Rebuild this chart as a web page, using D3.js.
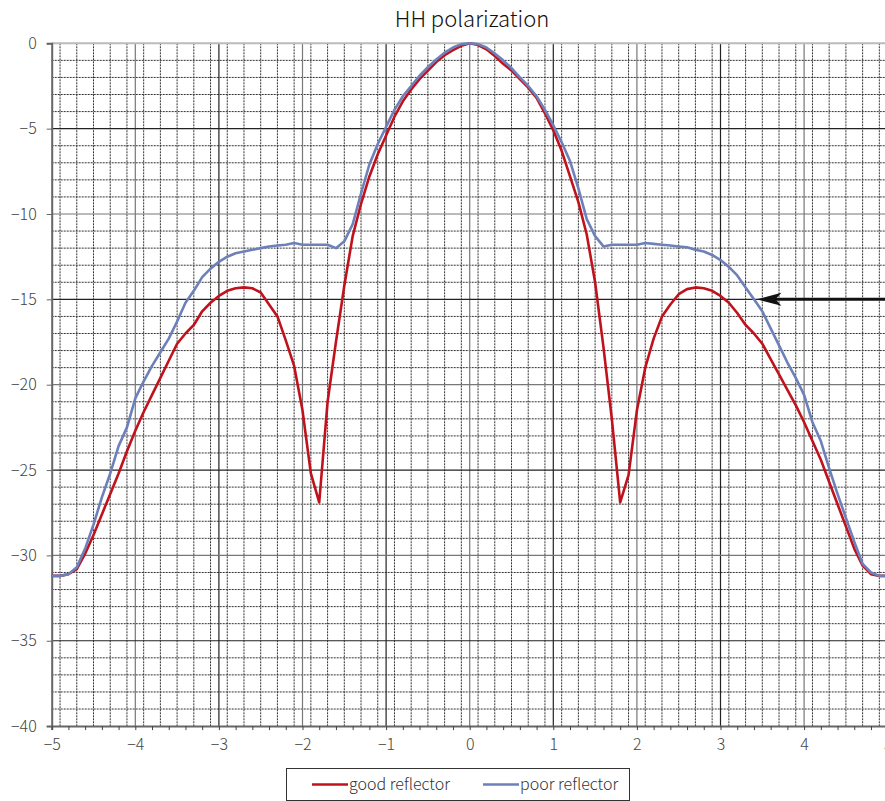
<!DOCTYPE html>
<html>
<head>
<meta charset="utf-8">
<script src="https://cdn.jsdelivr.net/npm/d3@7"></script>
<style>
  body { margin: 0; background: #fff; }
  text { font-family: "Noto Sans CJK JP", "DejaVu Sans", sans-serif; fill: #222; }
</style>
</head>
<body>
<svg id="svg" width="885" height="801"></svg>
<script>
var xValues = [-5.0,-4.9,-4.8,-4.7,-4.6,-4.5,-4.4,-4.3,-4.2,-4.1,
	-4.0,-3.9,-3.8,-3.7,-3.6,-3.5,-3.4,-3.3,-3.2,-3.1,
	-3.0,-2.9,-2.8,-2.7,-2.6,-2.5,-2.4,-2.3,-2.2,-2.1,
	-2.0,-1.9,-1.8,-1.7,-1.6,-1.5,-1.4,-1.3,-1.2,-1.1,
	-1.0,-0.9,-0.8,-0.7,-0.6,-0.5,-0.4,-0.3,-0.2,-0.1,
	0.0,0.1,0.2,0.3,0.4,0.5,0.6,0.7,0.8,0.9,
	1.0,1.1,1.2,1.3,1.4,1.5,1.6,1.7,1.8,1.9,
	2.0,2.1,2.2,2.3,2.4,2.5,2.6,2.7,2.8,2.9,
	3.0,3.1,3.2,3.3,3.4,3.5,3.6,3.7,3.8,3.9,
	4.0,4.1,4.2,4.3,4.4,4.5,4.6,4.7,4.8,4.9,5.0];

var goodReflector = [-31.2,-31.2,-31.1,-30.8,-29.9,-28.8,-27.6,-26.4,-25.2,-23.9,
	-22.7,-21.6,-20.6,-19.6,-18.6,-17.6,-17.0,-16.5,-15.7,-15.2,
	-14.8,-14.5,-14.35,-14.3,-14.35,-14.6,-15.3,-16.0,-17.4,-18.9,
	-21.5,-25.2,-26.9,-21.0,-17.5,-14.2,-11.3,-9.4,-7.8,-6.5,
	-5.4,-4.3,-3.4,-2.7,-2.1,-1.6,-1.1,-0.7,-0.4,-0.15,
	0.0,-0.1,-0.35,-0.75,-1.2,-1.6,-2.1,-2.6,-3.2,-4.1,
	-5.1,-6.3,-7.8,-9.3,-11.2,-14.0,-17.8,-22.0,-26.9,-25.3,
	-21.5,-19.0,-17.3,-16.0,-15.3,-14.7,-14.4,-14.3,-14.35,-14.5,
	-14.8,-15.2,-15.8,-16.5,-17.0,-17.6,-18.5,-19.4,-20.3,-21.2,
	-22.2,-23.3,-24.4,-25.7,-27.0,-28.3,-29.6,-30.6,-31.1,-31.2,-31.2];

var poorReflector = [-31.2,-31.2,-31.1,-30.7,-29.6,-28.2,-26.6,-25.2,-23.6,-22.5,
	-20.8,-19.8,-18.9,-18.1,-17.3,-16.3,-15.2,-14.5,-13.7,-13.2,
	-12.8,-12.5,-12.3,-12.2,-12.1,-12.0,-11.9,-11.85,-11.8,-11.7,
	-11.8,-11.8,-11.8,-11.8,-12.0,-11.6,-10.6,-8.8,-7.1,-5.9,
	-4.9,-3.9,-3.1,-2.5,-1.9,-1.4,-0.95,-0.55,-0.25,-0.05,
	0.0,-0.05,-0.25,-0.6,-1.0,-1.45,-2.0,-2.5,-3.1,-3.9,
	-4.8,-5.8,-6.9,-8.5,-10.3,-11.3,-11.9,-11.8,-11.8,-11.8,
	-11.8,-11.7,-11.75,-11.8,-11.85,-11.9,-11.95,-12.1,-12.2,-12.4,
	-12.7,-13.1,-13.6,-14.3,-15.0,-15.7,-16.7,-17.7,-18.7,-19.6,
	-20.6,-22.2,-23.3,-24.9,-26.4,-27.8,-29.2,-30.5,-31.0,-31.2,-31.2];

var seriesNames = ["good reflector", "poor reflector"];
var seriesColors = ["#c0121c", "#6d80b9"];
var xTicks = [-5, -4, -3, -2, -1, 0, 1, 2, 3, 4, 5];
var yTicks = [0, -5, -10, -15, -20, -25, -30, -35, -40];
var arrowPoint = [3.43, -15];

var svg = d3.select("svg"),
	width = +svg.attr("width"),
	height = +svg.attr("height");

var marginLeft = 51.7, marginTop = 43.3, unitX = 83.6, unitY = 17.07;

var x = d3.scaleLinear().domain([-5, 5]).range([marginLeft, marginLeft + unitX * 10]);
var y = d3.scaleLinear().domain([0, -40]).range([marginTop, marginTop + unitY * 40]);

function fmt(v) { return v < 0 ? "\u2212" + Math.abs(v) : "" + v; }

// grid
var grid = svg.append("g");
d3.range(-49, 50, 2).map(function (v) { return v / 10; })
	.filter(function (v) { return Math.abs(v - Math.round(v)) > 0.01; })
	.forEach(function (v) {
		grid.append("line")
			.attr("x1", x(v)).attr("x2", x(v))
			.attr("y1", y(0)).attr("y2", y(-40))
			.style("stroke", "#333").style("stroke-dasharray", "2,1").style("stroke-width", 1);
	});
d3.range(-1, -40, -1)
	.filter(function (v) { return v % 5 != 0; })
	.forEach(function (v) {
		grid.append("line")
			.attr("x1", x(-5)).attr("x2", x(5))
			.attr("y1", y(v)).attr("y2", y(v))
			.style("stroke", "#333").style("stroke-dasharray", "2,1").style("stroke-width", 1);
	});
xTicks.slice(1, -1).forEach(function (v, i) {
	grid.append("line")
		.attr("x1", x(v)).attr("x2", x(v))
		.attr("y1", y(0)).attr("y2", y(-40))
		.style("stroke", i % 2 ? "#222" : "#777").style("stroke-width", 1.2);
});
yTicks.slice(1, -1).forEach(function (v, i) {
	grid.append("line")
		.attr("x1", x(-5)).attr("x2", x(5))
		.attr("y1", y(v)).attr("y2", y(v))
		.style("stroke", i % 2 ? "#777" : "#222").style("stroke-width", 1.2);
});

// frame
svg.append("line").attr("x1", x(-5)).attr("x2", x(5)).attr("y1", y(0)).attr("y2", y(0))
	.style("stroke", "#bbb").style("stroke-width", 2);

var yAxis = svg.append("g")
	.attr("transform", "translate(" + x(-5) + ",0)")
	.call(d3.axisLeft(y).tickValues(yTicks).tickSize(5).tickPadding(10).tickFormat(fmt));
yAxis.select(".domain").style("stroke", "#666").style("stroke-width", 2);
yAxis.selectAll(".tick line").style("stroke", "#666");
yAxis.selectAll("text").style("font-size", "16px").style("fill", "#444")
	.style("font-weight", 300)
	.style("font-family", "'Noto Sans CJK JP', sans-serif");

var xAxis = svg.append("g")
	.attr("transform", "translate(0," + y(-40) + ")")
	.call(d3.axisBottom(x).tickValues(d3.range(-50, 51, 2).map(function (v) { return v / 10; }))
		.tickSize(4).tickPadding(9)
		.tickFormat(function (v) { return xTicks.indexOf(v) >= 0 ? fmt(v) : ""; }));
xAxis.select(".domain").style("stroke", "#666").style("stroke-width", 2);
xAxis.selectAll(".tick line").style("stroke", "#444");
xAxis.selectAll("text").style("font-size", "16px").style("fill", "#444")
	.style("font-weight", 300)
	.style("font-family", "'Noto Sans CJK JP', sans-serif");

// series
var line = d3.line()
	.x(function (d) { return x(d[0]); })
	.y(function (d) { return y(d[1]); });

[goodReflector, poorReflector].forEach(function (s, i) {
	svg.append("path")
		.datum(xValues.map(function (v, j) { return [v, s[j]]; }))
		.attr("d", line)
		.style("fill", "none")
		.style("stroke", seriesColors[i])
		.style("stroke-width", 2.6)
		.style("stroke-linejoin", "round");
});

// arrow
var ax = x(arrowPoint[0]), ay = y(arrowPoint[1]);
svg.append("line")
	.attr("x1", ax + 18).attr("x2", width)
	.attr("y1", ay).attr("y2", ay)
	.style("stroke", "#111").style("stroke-width", 3);
svg.append("path")
	.attr("d", "M" + ax + "," + ay + " L" + (ax + 25) + "," + (ay - 6.5) + " L" + (ax + 19) + "," + ay +
		" L" + (ax + 25) + "," + (ay + 6.5) + " Z")
	.style("fill", "#111");

// title
svg.append("text")
	.attr("x", 472).attr("y", 27)
	.attr("text-anchor", "middle")
	.style("font-size", "22px")
	.style("font-weight", 300)
	.style("fill", "#111")
	.text("HH polarization");

// legend
var legend = svg.append("g");
legend.append("rect")
	.attr("x", 286.5).attr("y", 768.5).attr("width", 343).attr("height", 32)
	.style("fill", "#fff").style("stroke", "#333");
var legendX = [312, 483];
seriesNames.forEach(function (n, i) {
	legend.append("line")
		.attr("x1", legendX[i]).attr("x2", legendX[i] + 36)
		.attr("y1", 784.5).attr("y2", 784.5)
		.style("stroke", seriesColors[i]).style("stroke-width", 2.6);
	legend.append("text")
		.attr("x", legendX[i] + 37).attr("y", 790)
		.style("font-size", "16px").style("font-weight", 300).style("fill", "#333")
		.text(n);
});
</script>
</body>
</html>
